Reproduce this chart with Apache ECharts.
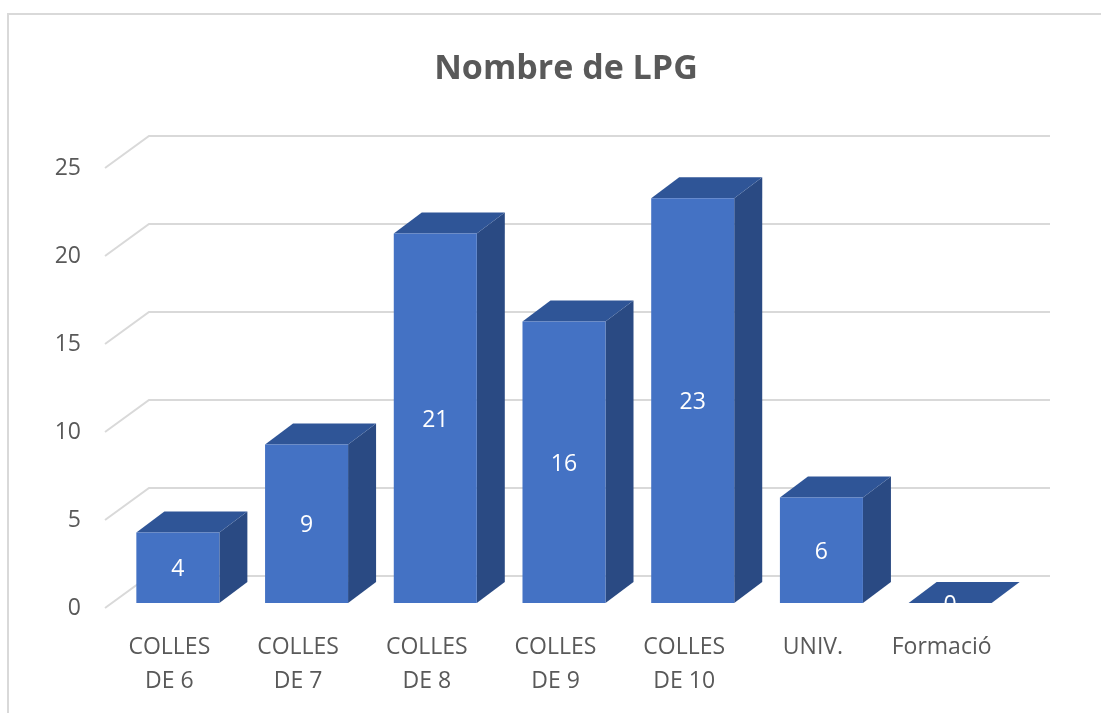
<!DOCTYPE html>
<html>
<head>
<meta charset="utf-8">
<script src="https://cdn.jsdelivr.net/npm/echarts@6/dist/echarts.min.js"></script>
<style>
  html, body { margin: 0; padding: 0; background: #ffffff; }
  #chart { width: 1101px; height: 713px; }
</style>
</head>
<body>
<div id="chart"></div>
<script>
// ---- data ----
const chartTitle = 'Nombre de LPG';
const categories = ['COLLES\nDE 6', 'COLLES\nDE 7', 'COLLES\nDE 8', 'COLLES\nDE 9', 'COLLES\nDE 10', 'UNIV.', 'Formació'];
const values = [4, 9, 21, 16, 23, 6, 0];
const yTicks = [0, 5, 10, 15, 20, 25];

// ---- styling ----
const FONT = '"Open Sans", "Noto Sans", sans-serif';
const TEXT_COLOR = '#595959';
const GRID_COLOR = '#d9d9d9';
const FRONT_COLOR = '#4472c4';
const TOP_COLOR = '#2f5597';
const SIDE_COLOR = '#2a4a83';
const BAR_RATIO = 0.645;       // bar width / category width
const BAR_SHIFT_X = 8.5;       // bar front face lies slightly behind floor front
const BAR_SHIFT_Y = -5;
const BAR_DX = 28;             // bar depth projection
const BAR_DY = -21;
const WALL_DX = 44;            // floor depth projection (back wall)
const WALL_DY = -32;
const LABEL_NUDGE_Y = 2;

function renderGridLine(params, api) {
  const cs = params.coordSys;
  const y = api.coord([0, api.value(1)])[1];
  return {
    type: 'polyline',
    shape: {
      points: [
        [cs.x, y],
        [cs.x + WALL_DX, y + WALL_DY],
        [cs.x + cs.width + WALL_DX, y + WALL_DY]
      ]
    },
    style: { stroke: GRID_COLOR, lineWidth: 2, fill: null },
    silent: true
  };
}

function renderBar(params, api) {
  const i = api.value(0);
  const v = api.value(1);
  const base = api.coord([i, 0]);
  const top = api.coord([i, v]);
  const bw = api.size([1, 0])[0] * BAR_RATIO;
  const cx = base[0] + BAR_SHIFT_X;
  const yb = base[1] + BAR_SHIFT_Y;
  const yt = top[1] + BAR_SHIFT_Y;
  const xl = cx - bw / 2;
  const xr = cx + bw / 2;
  return {
    type: 'group',
    children: [
      {
        type: 'polygon',
        shape: { points: [[xr, yt], [xr + BAR_DX, yt + BAR_DY], [xr + BAR_DX, yb + BAR_DY], [xr, yb]] },
        style: { fill: SIDE_COLOR }
      },
      {
        type: 'polygon',
        shape: { points: [[xl, yt], [xr, yt], [xr + BAR_DX, yt + BAR_DY], [xl + BAR_DX, yt + BAR_DY]] },
        style: { fill: TOP_COLOR }
      },
      {
        type: 'rect',
        shape: { x: xl, y: yt, width: bw, height: yb - yt },
        style: { fill: FRONT_COLOR }
      },
      {
        type: 'text',
        x: cx,
        y: (yt + yb) / 2 + LABEL_NUDGE_Y,
        style: {
          text: String(v),
          fill: '#ffffff',
          font: '23px ' + FONT,
          align: 'center',
          verticalAlign: 'middle'
        }
      }
    ]
  };
}

const chart = echarts.init(document.getElementById('chart'), null, { renderer: 'canvas' });
chart.setOption({
  animation: false,
  backgroundColor: '#ffffff',
  title: {
    text: chartTitle,
    left: 561,
    textAlign: 'center',
    top: 47,
    textStyle: { fontFamily: FONT, fontSize: 34, fontWeight: 'bold', color: TEXT_COLOR }
  },
  graphic: [{
    type: 'rect',
    shape: { x: 8, y: 14, width: 1120, height: 740 },
    style: { fill: 'transparent', stroke: GRID_COLOR, lineWidth: 2 },
    silent: true,
    z: -10
  }],
  grid: { left: 105, right: 95, top: 168, bottom: 105, containLabel: false },
  xAxis: {
    type: 'category',
    data: categories,
    axisLine: { show: false },
    axisTick: { show: false },
    splitLine: { show: false },
    axisLabel: {
      interval: 0,
      margin: 22,
      fontFamily: FONT,
      fontSize: 23,
      lineHeight: 34,
      color: TEXT_COLOR
    }
  },
  yAxis: {
    type: 'value',
    min: 0,
    max: 25,
    interval: 5,
    axisLine: { show: false },
    axisTick: { show: false },
    splitLine: { show: false },
    axisLabel: {
      margin: 24,
      fontFamily: FONT,
      fontSize: 23,
      color: TEXT_COLOR
    }
  },
  series: [
    {
      type: 'custom',
      name: 'grid',
      renderItem: renderGridLine,
      data: yTicks.map(function (t) { return [0, t]; }),
      clip: false,
      silent: true,
      z: 1
    },
    {
      type: 'custom',
      name: 'LPG',
      renderItem: renderBar,
      data: values.map(function (v, i) { return [i, v]; }),
      clip: false,
      z: 2
    }
  ]
});
</script>
</body>
</html>
